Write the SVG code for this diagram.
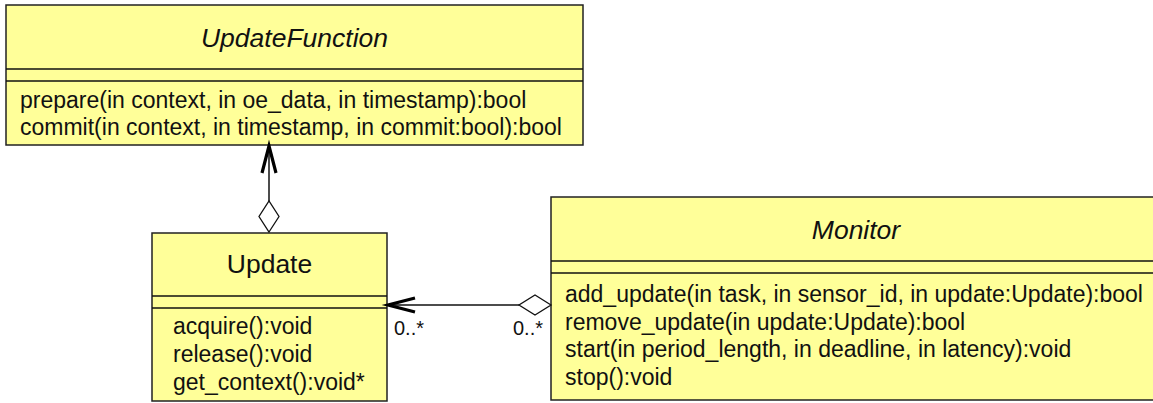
<svg xmlns="http://www.w3.org/2000/svg" width="1153" height="403" viewBox="0 0 1153 403">
  <style>
    .box { fill: #ffff99; stroke: #222; stroke-width: 1.5; }
    .sep { stroke: #111; stroke-width: 1.5; }
    .title { font-family: "Liberation Sans", Arial, sans-serif; font-size: 26.5px; fill: #111; text-anchor: middle; }
    .abstract { font-style: italic; }
    .op { font-family: "Liberation Sans", Arial, sans-serif; font-size: 23px; fill: #111; }
    .mult { font-family: "Liberation Sans", Arial, sans-serif; font-size: 20px; fill: #111; }
    .line { fill: none; stroke: #111; stroke-width: 1.5; }
    .head { fill: none; stroke: #000; stroke-width: 3.2; stroke-linejoin: miter; }
    .agg { fill: #ffffff; stroke: #111; stroke-width: 1.3; }
  </style>

  <rect width="1153" height="403" fill="#ffffff"/>

  <!-- abstract class UpdateFunction -->
  <g id="UpdateFunction">
    <rect class="box" x="6" y="5" width="577" height="140"/>
    <line class="sep" x1="6" y1="69" x2="583" y2="69"/>
    <line class="sep" x1="6" y1="81" x2="583" y2="81"/>
    <text class="title abstract" x="294.5" y="47">UpdateFunction</text>
    <text class="op" x="20" y="108">prepare(in context, in oe_data, in timestamp):bool</text>
    <text class="op" x="20" y="135">commit(in context, in timestamp, in commit:bool):bool</text>
  </g>

  <!-- class Update -->
  <g id="Update">
    <rect class="box" x="152" y="233" width="235" height="168"/>
    <line class="sep" x1="152" y1="296" x2="387" y2="296"/>
    <line class="sep" x1="152" y1="308" x2="387" y2="308"/>
    <text class="title" x="269.5" y="273">Update</text>
    <text class="op" x="173" y="334">acquire():void</text>
    <text class="op" x="173" y="362">release():void</text>
    <text class="op" x="173" y="390">get_context():void*</text>
  </g>

  <!-- abstract class Monitor -->
  <g id="Monitor">
    <rect class="box" x="551" y="197" width="610" height="203"/>
    <line class="sep" x1="551" y1="261" x2="1161" y2="261"/>
    <line class="sep" x1="551" y1="273" x2="1161" y2="273"/>
    <text class="title abstract" x="856" y="239">Monitor</text>
    <text class="op" x="565" y="302">add_update(in task, in sensor_id, in update:Update):bool</text>
    <text class="op" x="565" y="329.5">remove_update(in update:Update):bool</text>
    <text class="op" x="565" y="357">start(in period_length, in deadline, in latency):void</text>
    <text class="op" x="565" y="384.5">stop():void</text>
  </g>

  <!-- aggregation associations -->
  <g id="connectors">
    <!-- Update aggregates UpdateFunction -->
    <line class="line" x1="269" y1="201" x2="269" y2="147"/>
    <polyline class="head" points="262,173 269,146 276,173"/>
    <polygon class="agg" points="269,232 279,216.5 269,201 259,216.5"/>

    <!-- Monitor aggregates Update -->
    <line class="line" x1="519" y1="305" x2="389" y2="305"/>
    <polyline class="head" points="415,298 388,305 415,312"/>
    <polygon class="agg" points="551,305 535,295 519,305 535,315"/>
    <text class="mult" x="394" y="335">0..*</text>
    <text class="mult" x="513" y="335">0..*</text>
  </g>
</svg>
